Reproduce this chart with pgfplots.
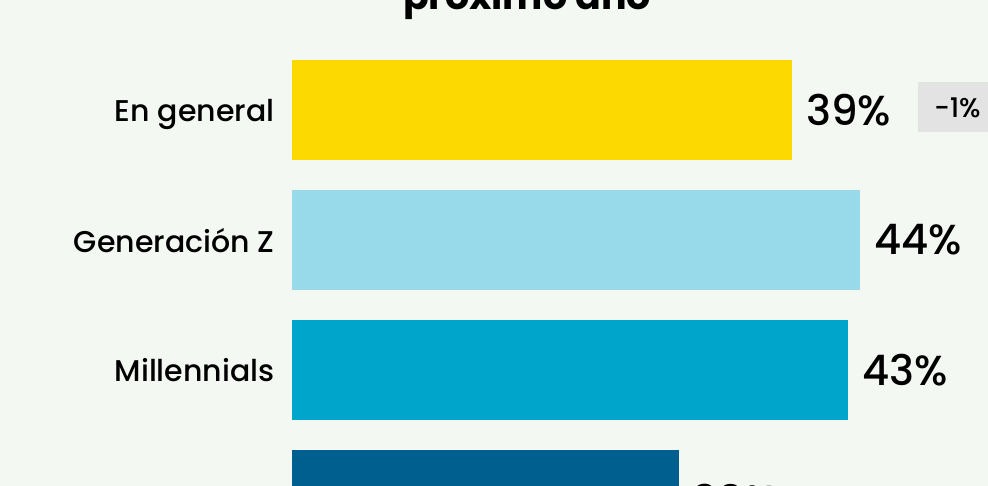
\documentclass[border=0pt]{standalone}
\usepackage{pgfplots}
\pgfplotsset{compat=1.18}
\usepackage{fontspec}
\setmainfont{Poppins}[UprightFont=* Medium, BoldFont=* Bold]
\definecolor{bg}{HTML}{F4F8F3}
\definecolor{cyel}{HTML}{FCD900}
\definecolor{clb}{HTML}{99DAEA}
\definecolor{cmb}{HTML}{00A5CC}
\definecolor{cdb}{HTML}{005F8E}
\definecolor{boxg}{HTML}{E3E3E3}
\begin{document}
\begin{tikzpicture}[x=1pt,y=1pt]
\useasboundingbox (0,0) rectangle (988,486);
\clip (0,0) rectangle (988,486);
\fill[bg] (0,0) rectangle (988,486);
\node[font=\bfseries\fontsize{38}{44}\selectfont, anchor=base, inner sep=0pt] at (527,476) {próximo año};
\begin{axis}[
  at={(292pt,376pt)}, anchor=origin,
  x=12.85pt, y=130pt, y dir=reverse,
  xmin=0, xmax=60, ymin=-0.5, ymax=3.5,
  xbar, bar width=100pt, bar shift=0pt,
  axis line style={draw=none},
  xtick=\empty,
  ytick={0,1,2,3},
  yticklabels={En general,Generación Z,Millennials,Generación X},
  ytick style={draw=none},
  yticklabel style={font=\fontsize{30}{34}\selectfont, anchor=east, inner sep=0pt, text depth=0pt, xshift=-13pt},
  clip=false,
  point meta=explicit,
  nodes near coords={\pgfmathprintnumber[assume math mode=true]{\pgfplotspointmeta}\%},
  nodes near coords style={font=\fontsize{42}{48}\selectfont, anchor=west, inner sep=0pt, xshift=14pt},
]
\addplot[fill=cyel, draw=none] coordinates {(38.9,0) [39]};
\addplot[fill=clb, draw=none] coordinates {(44.2,1) [44]};
\addplot[fill=cmb, draw=none] coordinates {(43.3,2) [43]};
\addplot[fill=cdb, draw=none] coordinates {(30.1,3) [30]};
\node[fill=boxg, anchor=west, inner xsep=16pt, inner ysep=0pt, minimum height=50pt, font=\fontsize{27}{30}\selectfont] at (axis cs:48.7,-0.02) {-1\%\hspace{40pt}};
\end{axis}
\end{tikzpicture}
\end{document}
